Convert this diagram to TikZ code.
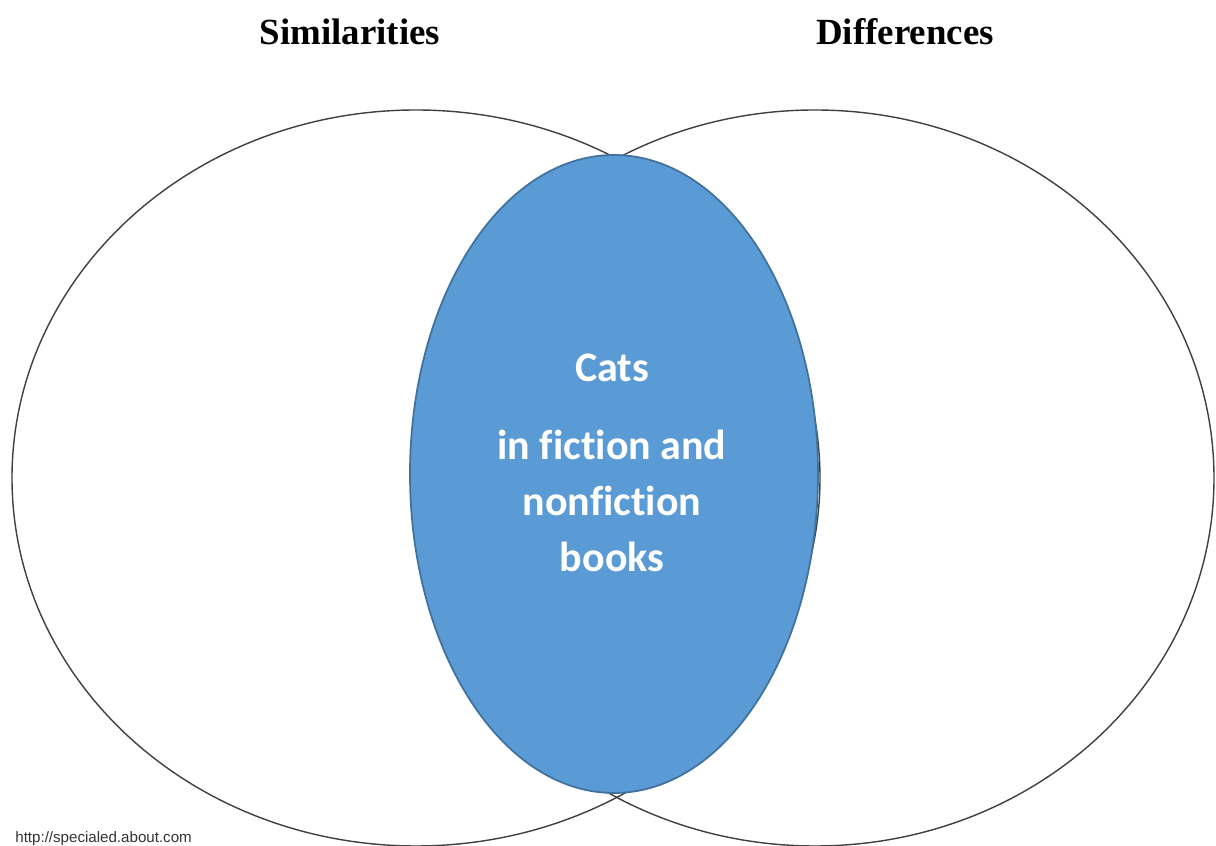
\documentclass[tikz,border=0pt]{standalone}
\usepackage{fontspec}
\setmainfont{Liberation Serif}
\newfontfamily\calibrifont[Ligatures=NoCommon]{Carlito}
\newfontfamily\arialfont{Liberation Sans}
\usetikzlibrary{shapes.geometric}
\definecolor{lensblue}{HTML}{5B9BD5}
\definecolor{lensedge}{HTML}{41719C}

\begin{document}
\begin{tikzpicture}[
	ring/.style={ellipse, draw=black!75, line width=0.8pt, minimum height=14.72cm, inner sep=0pt},
	lens/.style={ellipse, draw=lensedge, fill=lensblue, line width=1pt, minimum width=8.16cm, minimum height=12.76cm, inner sep=0pt},
	heading/.style={font=\fontsize{21}{25}\selectfont\bfseries},
	lenstext/.style={text=white, align=center, font=\calibrifont\fontsize{23.9}{31.7}\selectfont\bfseries}
	]
		\useasboundingbox (0,0) rectangle (24.32,16.92);
		\node [ring, minimum width=16.16cm] (left) at (8.32,7.36) {};
		\node [ring, minimum width=15.96cm] (right) at (16.3,7.36) {};
		\node [lens] (middle) at (12.28,7.44) {};
		\node [heading] (similar) at (7.0,16.28) {Similarities};
		\node [heading] (differ) at (18.1,16.28) {Differences};
		\node [lenstext] (cats) at (12.24,9.56) {Cats};
		\node [lenstext] (books) at (12.24,6.9) {in fiction and\\nonfiction\\books};
		\node [anchor=base west, text=black!80, font=\arialfont\fontsize{8.6}{10}\selectfont, inner sep=0pt] (source) at (0.3,0.07) {http://specialed.about.com};
		\end{tikzpicture}
\end{document}
